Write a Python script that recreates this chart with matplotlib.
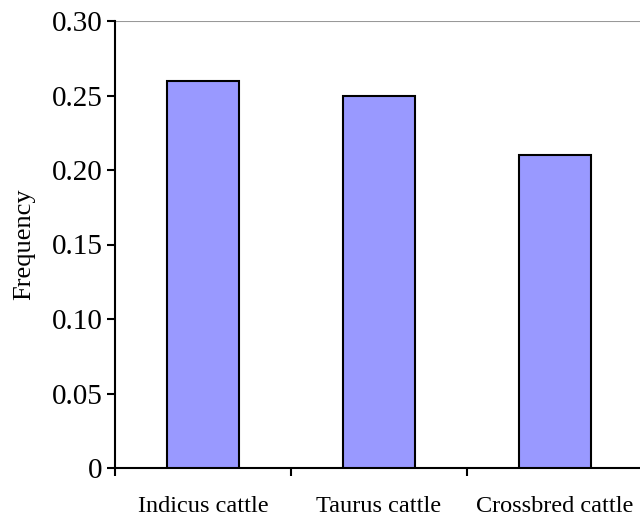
import matplotlib
matplotlib.use('Agg')
import matplotlib.pyplot as plt
import numpy as np

categories = ['Indicus cattle', 'Taurus cattle', 'Crossbred cattle']
values = [0.26, 0.25, 0.21]
yticks = [0, 0.05, 0.10, 0.15, 0.20, 0.25, 0.30]
ytick_labels = ['0', '0.05', '0.10', '0.15', '0.20', '0.25', '0.30']

plt.rcParams['font.family'] = ['Liberation Serif', 'DejaVu Serif']

fig = plt.figure(figsize=(6.4, 5.17), dpi=100)
ax = fig.add_axes([115 / 640, 49 / 517, 528 / 640, 447 / 517])

x = np.arange(len(categories))
ax.bar(x, values, width=0.41, color='#9999ff', edgecolor='black', linewidth=1.5, zorder=3)

ax.set_xlim(-0.5, 2.5)
ax.set_ylim(0, 0.30)
ax.set_yticks(yticks)
ax.set_yticklabels(ytick_labels, fontsize=21)
ax.axhline(0.30, color='#999999', linewidth=1.5, zorder=1)

# category labels centred, ticks on the boundaries
ax.set_xticks([-0.5, 0.5, 1.5, 2.5])
ax.set_xticklabels([])
ax.tick_params(axis='x', direction='out', length=6, width=1.5)
ax.tick_params(axis='y', direction='out', length=6, width=1.5, pad=3)
for xi, lab in zip(x, categories):
    ax.text(xi, -0.026, lab, ha='center', va='center', fontsize=17.5,
            transform=ax.transData, clip_on=False)

ax.set_ylabel('Frequency', fontsize=19, labelpad=12)

for s in ['top', 'right']:
    ax.spines[s].set_visible(False)
ax.spines['left'].set_linewidth(1.5)
ax.spines['bottom'].set_linewidth(1.5)

fig.savefig('out.png', dpi=100)
